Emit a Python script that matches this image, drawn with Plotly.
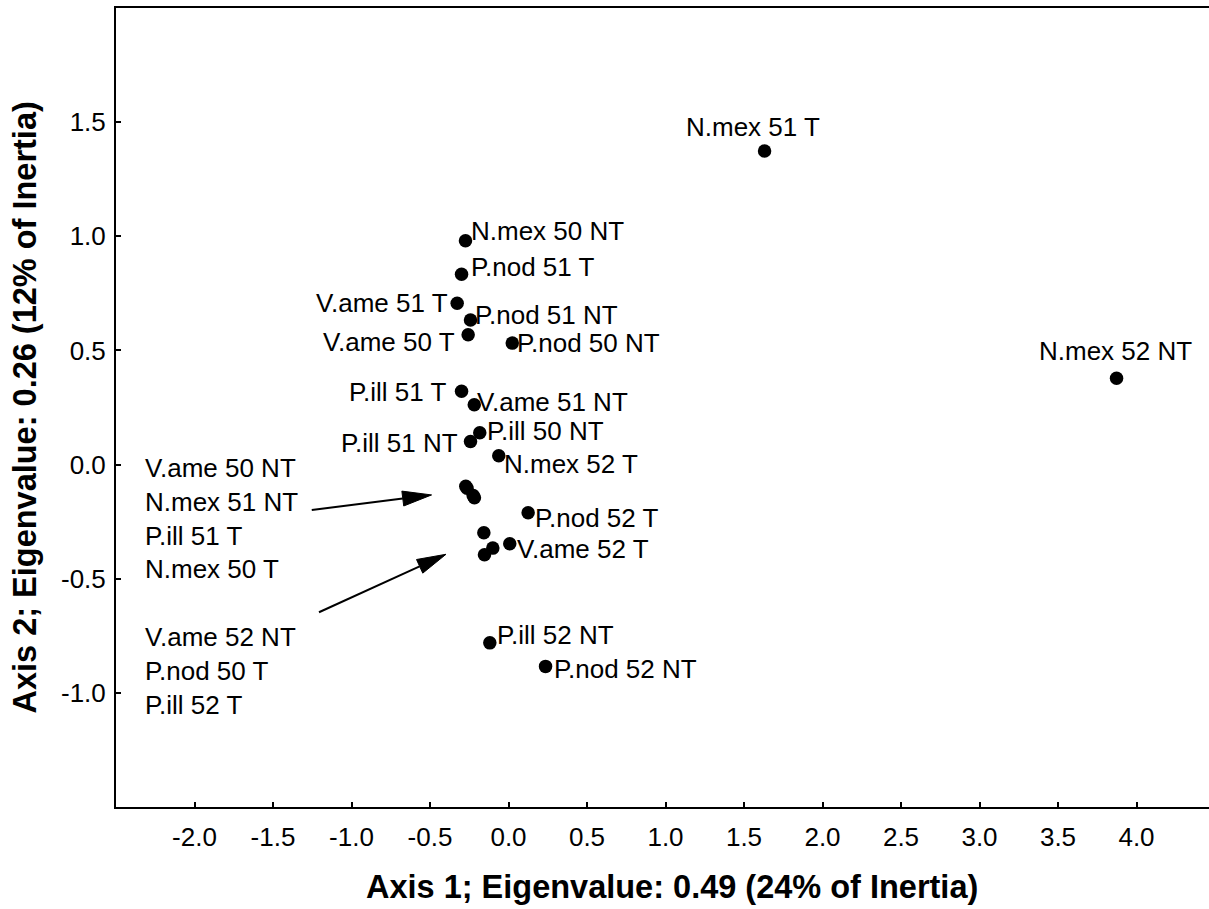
import math
import plotly.graph_objects as go

# Correspondence-analysis sample scores (axis 1, axis 2) for the labelled points
names = ["N.mex 51 T", "N.mex 52 NT", "N.mex 50 NT", "P.nod 51 T", "V.ame 51 T",
         "P.nod 51 NT", "V.ame 50 T", "P.nod 50 NT", "P.ill 51 T", "V.ame 51 NT",
         "P.ill 50 NT", "P.ill 51 NT", "N.mex 52 T", "P.nod 52 T", "V.ame 52 T",
         "P.ill 52 NT", "P.nod 52 NT"]
axis1 = [1.631, 3.873, -0.274, -0.299, -0.327, -0.242, -0.257, 0.024, -0.299,
         -0.218, -0.183, -0.242, -0.062, 0.125, 0.008, -0.119, 0.236]
axis2 = [1.374, 0.378, 0.980, 0.834, 0.707, 0.633, 0.569, 0.532, 0.321,
         0.262, 0.139, 0.101, 0.039, -0.211, -0.347, -0.781, -0.884]

# Overlapping samples, named in call-out lists instead of point labels
cluster_a_names = ["V.ame 50 NT", "N.mex 51 NT", "P.ill 51 T", "N.mex 50 T"]
cluster_a_axis1 = [-0.272, -0.264, -0.225, -0.217]
cluster_a_axis2 = [-0.095, -0.104, -0.136, -0.145]

cluster_b_names = ["V.ame 52 NT", "P.nod 50 T", "P.ill 52 T"]
cluster_b_axis1 = [-0.157, -0.100, -0.153]
cluster_b_axis2 = [-0.299, -0.366, -0.395]

x_ticks = [-2.0, -1.5, -1.0, -0.5, 0.0, 0.5, 1.0, 1.5, 2.0, 2.5, 3.0, 3.5, 4.0]
y_ticks = [-1.0, -0.5, 0.0, 0.5, 1.0, 1.5]

x_title = "Axis 1; Eigenvalue: 0.49 (24% of Inertia)"
y_title = "Axis 2; Eigenvalue: 0.26 (12% of Inertia)"

# ---- page geometry -------------------------------------------------------
W, H = 1209, 909
ML, MR, MT, MB = 116, 0, 8, 102
PW, PH = W - ML - MR, H - MT - MB
X_PX_PER_UNIT = 157.0
X_RANGE = [-2.5, -2.5 + PW / X_PX_PER_UNIT]
Y_RANGE = [-1.5, 2.0]
Y_PX_PER_UNIT = PH / (Y_RANGE[1] - Y_RANGE[0])

FONT = "Liberation Sans, Arial, sans-serif"
LABEL_SIZE = 26
TITLE_SIZE = 32.5

# label placement: side of the point and pixel nudge (dx, dy; dy > 0 is down)
label_place = {
    "N.mex 51 T": ("top", -12, -24),
    "N.mex 52 NT": ("top", -1, -27),
    "N.mex 50 NT": ("right", 6, -10),
    "P.nod 51 T": ("right", 9, -7),
    "V.ame 51 T": ("left", -9, 0),
    "P.nod 51 NT": ("right", 4, -5),
    "V.ame 50 T": ("left", -13, 7),
    "P.nod 50 NT": ("right", 5, 0),
    "P.ill 51 T": ("left", -16, 1),
    "V.ame 51 NT": ("right", 3, -3),
    "P.ill 50 NT": ("right", 7, -2),
    "P.ill 51 NT": ("left", -13, 1),
    "N.mex 52 T": ("right", 5, 8),
    "P.nod 52 T": ("right", 7, 5),
    "V.ame 52 T": ("right", 7, 5),
    "P.ill 52 NT": ("right", 7, -8),
    "P.nod 52 NT": ("right", 8, 3),
}


def to_px(x, y):
    return ((x - X_RANGE[0]) * X_PX_PER_UNIT, (Y_RANGE[1] - y) * Y_PX_PER_UNIT)


def to_data(px, py):
    return (X_RANGE[0] + px / X_PX_PER_UNIT, Y_RANGE[1] - py / Y_PX_PER_UNIT)


fig = go.Figure()

all_x = axis1 + cluster_a_axis1 + cluster_b_axis1
all_y = axis2 + cluster_a_axis2 + cluster_b_axis2
fig.add_trace(go.Scatter(
    x=all_x, y=all_y, mode="markers",
    marker=dict(size=13.5, color="black", line=dict(width=0)),
    hoverinfo="skip", showlegend=False,
))

annotations = []
for name, x, y in zip(names, axis1, axis2):
    side, dx, dy = label_place[name]
    if side == "top":
        xa, ya = "center", "middle"
    elif side == "left":
        xa, ya = "right", "middle"
    else:
        xa, ya = "left", "middle"
    annotations.append(dict(
        x=x, y=y, xref="x", yref="y", text=name, showarrow=False,
        xanchor=xa, yanchor=ya, xshift=dx, yshift=-dy,
        borderpad=0, borderwidth=0,
        font=dict(family=FONT, size=LABEL_SIZE, color="black"),
    ))

# call-out lists for the overlapping clusters
callouts = [
    (cluster_a_names, -2.315, -0.237),
    (cluster_b_names, -2.315, -0.905),
]
for group, cx, cy in callouts:
    annotations.append(dict(
        x=cx, y=cy, xref="x", yref="y", text="<br>".join(group),
        showarrow=False, xanchor="left", yanchor="middle", align="left",
        borderpad=0, borderwidth=0,
        font=dict(family=FONT, size=LABEL_SIZE, color="black"),
    ))

# arrows from the call-out lists to their clusters (tail -> tip)
arrows = [
    ((-1.253, -0.199), (-0.490, -0.133)),
    ((-1.207, -0.647), (-0.398, -0.393)),
]
shapes = []
HEAD_LEN, HEAD_HALF = 29.0, 7.5
for (tx, ty), (hx, hy) in arrows:
    p0 = to_px(tx, ty)
    p1 = to_px(hx, hy)
    vx, vy = p1[0] - p0[0], p1[1] - p0[1]
    n = math.hypot(vx, vy)
    ux, uy = vx / n, vy / n
    bx, by = p1[0] - ux * HEAD_LEN, p1[1] - uy * HEAD_LEN
    left = to_data(bx - uy * HEAD_HALF, by + ux * HEAD_HALF)
    right = to_data(bx + uy * HEAD_HALF, by - ux * HEAD_HALF)
    base = to_data(bx, by)
    shapes.append(dict(type="line", xref="x", yref="y", x0=tx, y0=ty,
                       x1=base[0], y1=base[1],
                       line=dict(color="black", width=2)))
    shapes.append(dict(type="path", xref="x", yref="y",
                       path=f"M{hx},{hy} L{left[0]},{left[1]} L{right[0]},{right[1]} Z",
                       fillcolor="black", line=dict(color="black", width=1)))

# axis titles
annotations.append(dict(
    x=(672 - ML) / PW, y=0.0, xref="paper", yref="paper",
    yshift=-80, text=f"<b>{x_title}</b>", showarrow=False,
    xanchor="center", yanchor="middle",
    font=dict(family=FONT, size=TITLE_SIZE, color="black"),
))
annotations.append(dict(
    x=(24 - ML) / PW, y=0.5, xref="paper", yref="paper",
    text=f"<b>{y_title}</b>", showarrow=False, textangle=-90,
    xanchor="center", yanchor="middle",
    font=dict(family=FONT, size=TITLE_SIZE, color="black"),
))

axis_common = dict(
    showgrid=False, zeroline=False, showline=True, linecolor="black",
    linewidth=2, ticks="inside", ticklen=5, tickwidth=1.5, tickcolor="black",
    tickfont=dict(family=FONT, size=LABEL_SIZE, color="black"),
)

fig.update_layout(
    width=W, height=H,
    margin=dict(l=ML, r=MR, t=MT, b=MB),
    paper_bgcolor="white", plot_bgcolor="white",
    xaxis=dict(range=X_RANGE, tickvals=x_ticks,
               ticktext=[f"{v:.1f}" for v in x_ticks], mirror=True,
               ticklabelstandoff=6, **axis_common),
    yaxis=dict(range=Y_RANGE, tickvals=y_ticks,
               ticktext=[f"{v:.1f}" for v in y_ticks],
               ticklabelstandoff=3, **axis_common),
    annotations=annotations,
    shapes=shapes,
    showlegend=False,
)

fig.write_html("out.html")
